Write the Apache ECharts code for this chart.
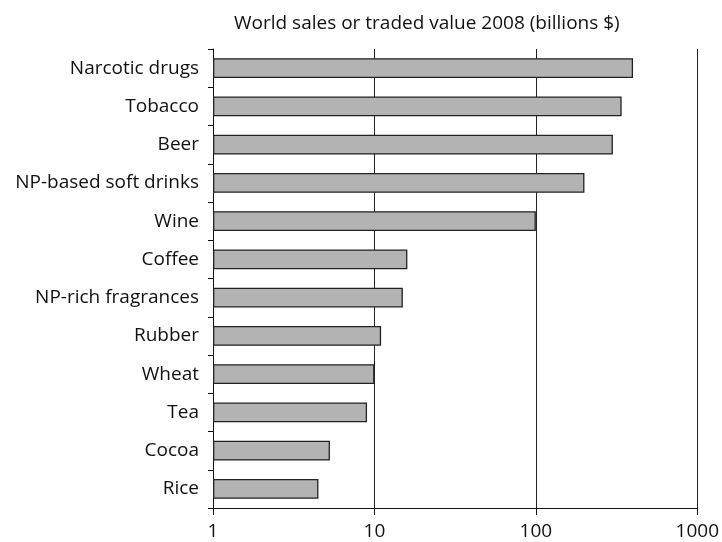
<!DOCTYPE html>
<html>
<head>
<meta charset="utf-8">
<script src="https://cdn.jsdelivr.net/npm/echarts@6/dist/echarts.min.js"></script>
<style>
  html, body { margin: 0; padding: 0; background: #fff; }
  #chart { width: 722px; height: 542px; }
</style>
</head>
<body>
<div id="chart"></div>
<script>
// Commodity categories, top to bottom
const categories = [
  'Narcotic drugs', 'Tobacco', 'Beer', 'NP-based soft drinks', 'Wine', 'Coffee',
  'NP-rich fragrances', 'Rubber', 'Wheat', 'Tea', 'Cocoa', 'Rice'
];
// World sales or traded value in 2008, billions of dollars
const values = [400, 340, 300, 200, 100, 16, 15, 11, 10, 9, 5.3, 4.5];
// Log axis tick labels
const tickLabels = [1, 10, 100, 1000];

const FONT = 'Open Sans';
const chart = echarts.init(document.getElementById('chart'), null, { renderer: 'canvas' });

chart.setOption({
  animation: false,
  backgroundColor: '#ffffff',
  title: {
    text: 'World sales or traded value 2008 (billions $)',
    left: 229,
    top: 9,
    textStyle: { fontFamily: FONT, fontSize: 19, fontWeight: 'normal', color: '#111' }
  },
  grid: { left: 213, right: 24, top: 49, bottom: 34, containLabel: false },
  xAxis: {
    type: 'log',
    logBase: 10,
    min: tickLabels[0],
    max: tickLabels[tickLabels.length - 1],
    axisLine: { show: true, lineStyle: { color: '#111', width: 1 } },
    axisTick: { show: true, length: 7, lineStyle: { color: '#111', width: 1 } },
    minorTick: { show: false },
    axisLabel: {
      margin: 14,
      fontFamily: FONT, fontSize: 19, color: '#111',
      formatter: v => String(Math.round(v))
    },
    splitLine: { show: true, lineStyle: { color: '#222', width: 1 } }
  },
  yAxis: {
    type: 'category',
    data: categories,
    inverse: true,
    axisLine: { show: true, lineStyle: { color: '#111', width: 1 } },
    axisTick: { show: true, length: 5, lineStyle: { color: '#111', width: 1 } },
    axisLabel: { margin: 14, fontFamily: FONT, fontSize: 19, color: '#111' },
    splitLine: { show: false }
  },
  series: [{
    type: 'bar',
    data: values,
    barWidth: '52%',
    itemStyle: { color: '#b3b3b3', borderColor: '#222', borderWidth: 1.3 }
  }]
});
</script>
</body>
</html>
